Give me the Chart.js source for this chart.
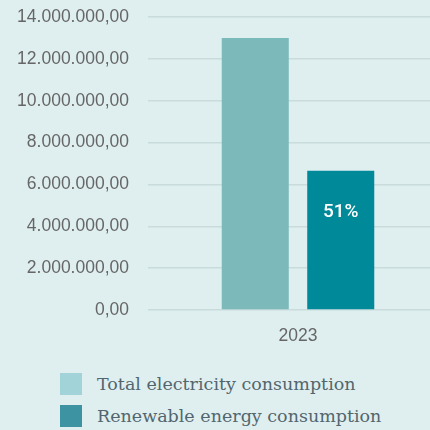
<!DOCTYPE html>
<html>
<head>
<meta charset="utf-8">
<script src="https://cdn.jsdelivr.net/npm/chart.js@4.4.1/dist/chart.umd.min.js"></script>
<style>
  html, body { margin: 0; padding: 0; background: #dfeff0; overflow: hidden; width: 430px; height: 430px; }
  .wrap { position: absolute; left: 0; top: 0; width: 448px; height: 345px; }
  .legend { position: absolute; left: 60px; top: 373px; font-family: "DejaVu Serif", serif; font-size: 17.5px; color: #52666e; }
  .legend div { display: flex; align-items: center; height: 22px; margin-bottom: 10px; white-space: nowrap; }
  .legend span.box { width: 22px; height: 22px; margin-right: 15px; display: inline-block; }
</style>
</head>
<body>
<div class="wrap"><canvas id="energy"></canvas></div>
<div class="legend" id="legend"></div>
<script>
// valeurs
const years = ['2023'];
const totalConsumption = [13000000];
const renewableConsumption = [6650000];
const shareLabels = ['51%'];
const seriesNames = ['Total electricity consumption', 'Renewable energy consumption'];
const legendColors = ['#a2d3d8', '#3e93a3'];

function formatNumber(v) {
    let parts = Math.round(v).toString().replace(/\B(?=(\d{3})+(?!\d))/g, '.');
    return parts + ',00';
}

const shareLabelPlugin = {
    id: 'shareLabel',
    afterDatasetsDraw(chart) {
        let ctx = chart.ctx;
        let meta = chart.getDatasetMeta(1);
        ctx.save();
        ctx.fillStyle = '#ffffff';
        ctx.font = '500 19px Roboto';
        ctx.textAlign = 'center';
        ctx.textBaseline = 'middle';
        meta.data.forEach((bar, i) => {
            ctx.fillText(shareLabels[i], bar.x, bar.y + 41);
        });
        ctx.restore();
    }
};

let ctx = document.getElementById('energy').getContext('2d');
let energyChart = new Chart(ctx, {
    type: 'bar',
    data: {
        labels: years,
        datasets: [
            { label: seriesNames[0], data: totalConsumption, backgroundColor: '#7bb9bb' },
            { label: seriesNames[1], data: renewableConsumption, backgroundColor: '#008a99' }
        ]
    },
    options: {
        responsive: true,
        maintainAspectRatio: false,
        animation: false,
        categoryPercentage: 0.57,
        barPercentage: 0.784,
        layout: { padding: 0 },
        plugins: {
            legend: { display: false },
            tooltip: { enabled: false }
        },
        scales: {
            x: {
                grid: { display: false, drawTicks: false },
                border: { display: false },
                afterFit: function (scale) { scale.height = 35; },
                ticks: { color: '#666666', font: { family: "'Liberation Sans', Arial, sans-serif", size: 17.5 }, padding: 16 }
            },
            y: {
                min: 0,
                max: 14000000,
                grid: { color: '#c9dbdb', lineWidth: 1.5, drawTicks: false },
                border: { display: false },
                afterFit: function (scale) {
                    scale.width = 148;
                    scale.paddingTop = 17;
                },
                ticks: {
                    stepSize: 2000000,
                    padding: 19,
                    color: '#666666',
                    font: { family: "'Liberation Sans', Arial, sans-serif", size: 17.5 },
                    callback: function (value) { return formatNumber(value); }
                }
            }
        }
    },
    plugins: [shareLabelPlugin]
});

let legend = document.getElementById('legend');
seriesNames.forEach((name, i) => {
    let row = document.createElement('div');
    row.innerHTML = '<span class="box" style="background:' + legendColors[i] + '"></span>' + name;
    legend.appendChild(row);
});
</script>
</body>
</html>
